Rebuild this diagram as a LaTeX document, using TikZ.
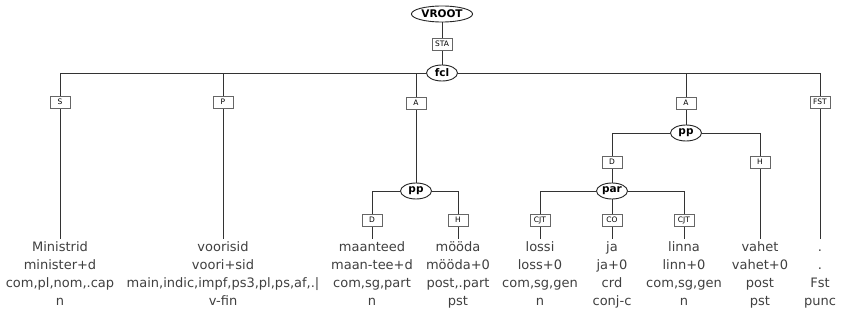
\documentclass[tikz,border=0pt]{standalone}
\usepackage{fontspec}
\setmainfont{DejaVu Sans}
\usepackage{tikz}
\usetikzlibrary{arrows,arrows.meta,positioning,shapes,backgrounds}

\newcommand{\wordcol}[4]{\strut #1\\#2\\#3\\#4}

\begin{document}
\begin{tikzpicture}[x=1pt,y=-1pt]
		\tikzstyle{edge}=[draw=black!80,line width=0.85pt]
		\tikzstyle{cat}=[ellipse,draw=black!85,line width=0.9pt,fill=white,inner xsep=1pt,inner ysep=0pt,minimum width=31pt,minimum height=16pt,font=\fontsize{10.5}{12}\selectfont\bfseries]
		\tikzstyle{func}=[rectangle,draw=black!60,line width=0.7pt,fill=white,inner sep=1pt,minimum width=20pt,minimum height=12pt,font=\fontsize{7.5}{8}\selectfont]
		\tikzstyle{word}=[anchor=north,inner sep=0pt,align=center,text=black!75,font=\fontsize{13}{18}\selectfont]
		
		\useasboundingbox (0,0) rectangle (844,323);
		
		% Root
		\node[cat] (vroot) at (442,14) {VROOT};
		\node[func] (sta) at (442,44) {STA};
		\node[cat] (fcl) at (442,73) {fcl};
		
		% Dependents of fcl
		\node[func] (s) at (60,102) {S};
		\node[func] (p) at (223,102) {P};
		\node[func] (a1) at (416,103) {A};
		\node[func] (a2) at (686,103) {A};
		\node[func] (fst) at (820,102) {FST};
		
		% First pp
		\node[cat] (pp1) at (416,191) {pp};
		\node[func] (d1) at (372,220) {D};
		\node[func] (h1) at (458,220) {H};
		
		% Second pp
		\node[cat] (pp2) at (686,133) {pp};
		\node[func] (d2) at (612,162) {D};
		\node[func] (h2) at (760,162) {H};
		\node[cat] (par) at (612,191) {par};
		\node[func] (cjt1) at (540,220) {CJT};
		\node[func] (co) at (612,220) {CO};
		\node[func] (cjt2) at (684,220) {CJT};
		
		% Words
		\node[word] (w1) at (60,239) {\wordcol{Ministrid}{minister+d}{com,pl,nom,.cap}{n}};
		\node[word] (w2) at (223,239) {\wordcol{voorisid}{voori+sid}{main,indic,impf,ps3,pl,ps,af,.|}{v-fin}};
		\node[word] (w3) at (372,239) {\wordcol{maanteed}{maan-tee+d}{com,sg,part}{n}};
		\node[word] (w4) at (458,239) {\wordcol{mööda}{mööda+0}{post,.part}{pst}};
		\node[word] (w5) at (540,239) {\wordcol{lossi}{loss+0}{com,sg,gen}{n}};
		\node[word] (w6) at (612,239) {\wordcol{ja}{ja+0}{crd}{conj-c}};
		\node[word] (w7) at (684,239) {\wordcol{linna}{linn+0}{com,sg,gen}{n}};
		\node[word] (w8) at (760,239) {\wordcol{vahet}{vahet+0}{post}{pst}};
		\node[word] (w9) at (820,239) {\wordcol{.}{.}{Fst}{punc}};
		
		\begin{scope}[on background layer]
		\fill[white] (0,0) rectangle (844,323);
		\draw[edge] (vroot) -- (sta) -- (fcl);
		\draw[edge] (fcl) -| (s);
		\draw[edge] (fcl) -| (p);
		\draw[edge] (fcl) -| (a1);
		\draw[edge] (fcl) -| (a2);
		\draw[edge] (fcl) -| (fst);
		\draw[edge] (s) -- (w1);
		\draw[edge] (p) -- (w2);
		\draw[edge] (fst) -- (w9);
		
		\draw[edge] (a1) -- (pp1);
		\draw[edge] (pp1) -| (d1);
		\draw[edge] (pp1) -| (h1);
		\draw[edge] (d1) -- (w3);
		\draw[edge] (h1) -- (w4);
		
		\draw[edge] (a2) -- (pp2);
		\draw[edge] (pp2) -| (d2);
		\draw[edge] (pp2) -| (h2);
		\draw[edge] (d2) -- (par);
		\draw[edge] (h2) -- (w8);
		\draw[edge] (par) -| (cjt1);
		\draw[edge] (par) -- (co);
		\draw[edge] (par) -| (cjt2);
		\draw[edge] (cjt1) -- (w5);
		\draw[edge] (co) -- (w6);
		\draw[edge] (cjt2) -- (w7);
		\end{scope}
\end{tikzpicture}
\end{document}
